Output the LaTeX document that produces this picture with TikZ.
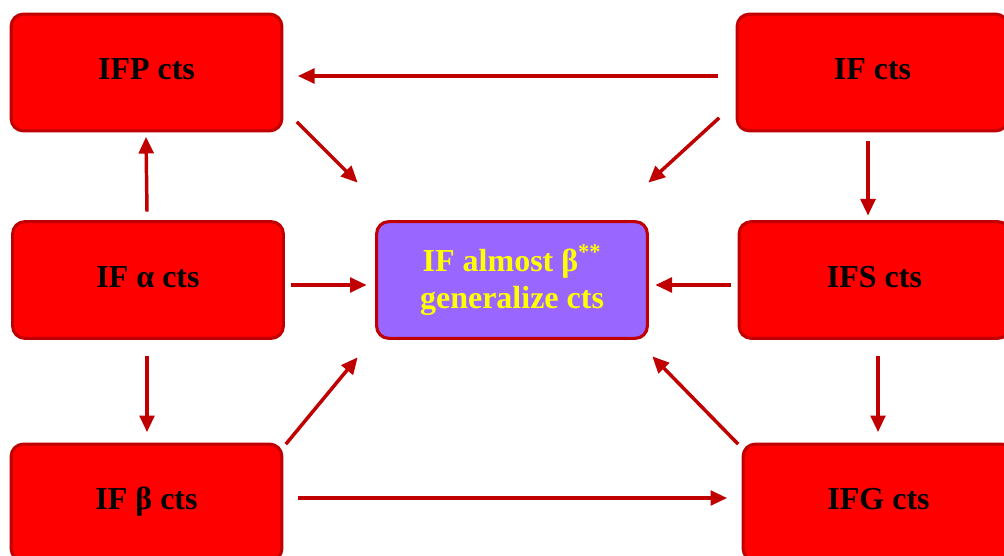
\documentclass[tikz,border=0pt]{standalone}
\usepackage{fontspec}
\setmainfont{Liberation Serif}
\usetikzlibrary{arrows.meta}
\definecolor{boxred}{HTML}{FF0000}
\definecolor{edgered}{HTML}{C00000}
\definecolor{hubviolet}{HTML}{9966FF}
\definecolor{hubtext}{HTML}{FFFF00}
\tikzset{
  panel/.style={draw=edgered, line width=2.3pt, rounded corners=9pt,
    minimum width=203pt, minimum height=87.5pt, outer sep=0pt, inner sep=0pt,
    font=\fontsize{24}{27.5}\selectfont\bfseries},
  box/.style={panel, fill=boxred, text=black, text height=17pt, text depth=6pt},
  hub/.style={panel, fill=hubviolet, text=hubtext, align=center},
  link/.style={draw=edgered, line width=2.6pt,
    -{Triangle[length=12.5pt,width=11pt]}}
}
\begin{document}
\begin{tikzpicture}[x=0.75pt, y=-0.75pt]
\useasboundingbox (0,0) rectangle (1004,556);
\clip (0,0) rectangle (1004,556);
% outer boxes
\node[box] (ifp)  at (146.5,72.5) {IFP cts};
\node[box] (ifc)  at (872.5,72.5) {IF cts};
\node[box] (ifa)  at (148,280)    {IF α cts};
\node[box] (ifs)  at (874.5,280)  {IFS cts};
\node[box] (ifb)  at (146.5,502.5) {IF β cts};
\node[box] (ifg)  at (878.5,502.5) {IFG cts};
% central box
\node[hub] (hub)  at (512,280) {IF almost β\textsuperscript{**}\\generalize cts};
% connectors
\draw[link] ([shift={(-19,3.5)}]ifc.west) -- ([shift={(16,3.5)}]ifp.east);
\draw[link] ([shift={(15,-9)}]ifp.south east) -- ([shift={(-19,-39)}]hub.north west);
\draw[link] ([shift={(-18,-13)}]ifc.south west) -- ([shift={(1,-39)}]hub.north east);
\draw[link] ([shift={(-1,-10)}]ifa.north) -- ([shift={(-0.5,6)}]ifp.south);
\draw[link] ([shift={(8,5)}]ifa.east) -- ([shift={(-10,5)}]hub.west);
\draw[link] ([shift={(-8,5)}]ifs.west) -- ([shift={(8,5)}]hub.east);
\draw[link] ([shift={(-4.5,10)}]ifc.south) -- ([shift={(-6.5,-6)}]ifs.north);
\draw[link] ([shift={(-1,18)}]ifa.south) -- ([shift={(0.5,-12)}]ifb.north);
\draw[link] ([shift={(3.5,18)}]ifs.south) -- ([shift={(-0.5,-12)}]ifg.north);
\draw[link] ([shift={(4,0)}]ifb.north east) -- ([shift={(-19,19)}]hub.south west);
\draw[link] ([shift={(-5,0)}]ifg.north west) -- ([shift={(5,18)}]hub.south east);
\draw[link] ([shift={(16,-4.5)}]ifb.east) -- ([shift={(-16,-4.5)}]ifg.west);
\end{tikzpicture}
\end{document}
